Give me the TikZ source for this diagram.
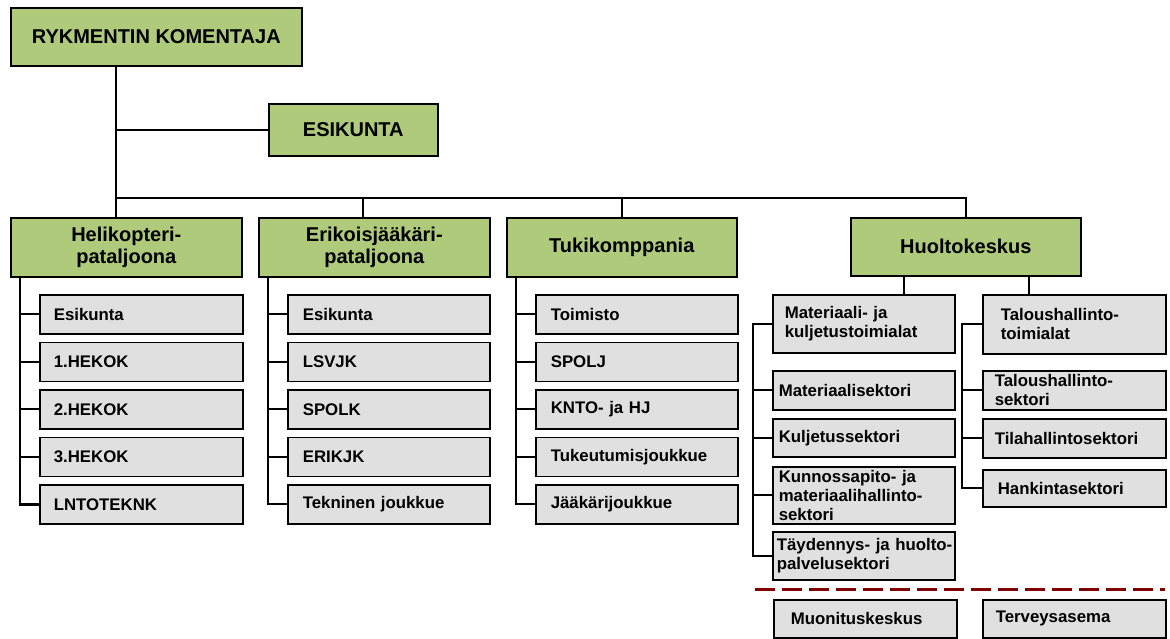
\documentclass[tikz,border=0pt]{standalone}
\usepackage{fontspec}
\setmainfont{Liberation Sans}
\usetikzlibrary{positioning}
\definecolor{boxgreen}{RGB}{174,202,122}
\definecolor{boxgray}{RGB}{224,224,224}
\definecolor{dashred}{RGB}{128,0,0}

\begin{document}
\begin{tikzpicture}[x=1pt,y=-1pt,
    head/.style={draw,fill=boxgreen,line width=1.6pt,align=center,anchor=north west,
        inner sep=0pt,font=\fontsize{20}{22}\selectfont\bfseries},
    unit/.style={draw,fill=boxgray,line width=1.6pt,anchor=north west,
        minimum height=39pt,text width=175pt,inner xsep=14pt,inner ysep=0pt,
        align=left,font=\fontsize{16.8}{19}\selectfont\bfseries},
    hkunit/.style={unit,text width=170pt,inner xsep=6pt},
    link/.style={line width=1.8pt},
    node distance=47.5pt]
    \useasboundingbox (0,0) rectangle (1170,639);

    % johto
    \node[head,minimum width=291pt,minimum height=58pt] (rk) at (10,7) {RYKMENTIN KOMENTAJA};
    \node[head,minimum width=169pt,minimum height=52pt] (es) at (268,103) {ESIKUNTA};

    \node[head,minimum width=231pt,minimum height=59pt] (hp) at (10,217) {Helikopteri-\\pataljoona};
    \node[head,minimum width=231pt,minimum height=59pt] (ej) at (258,217) {Erikoisjääkäri-\\pataljoona};
    \node[head,minimum width=230pt,minimum height=59pt] (tk) at (506,217) {Tukikomppania};
    \node[head,minimum width=230pt,minimum height=58pt] (hk) at (850,217) {Huoltokeskus};

    % Helikopteripataljoona
    \node[unit] (hp1) at (39,294) {Esikunta};
    \node[unit] (hp2) [below of=hp1] {1.HEKOK};
    \node[unit] (hp3) [below of=hp2] {2.HEKOK};
    \node[unit] (hp4) [below of=hp3] {3.HEKOK};
    \node[unit] (hp5) [below of=hp4] {LNTOTEKNK};

    % Erikoisjaakaripataljoona
    \node[unit,text width=172pt,inner xsep=15pt] (ej1) at (287,294) {Esikunta};
    \node[unit,text width=172pt,inner xsep=15pt] (ej2) [below of=ej1] {LSVJK};
    \node[unit,text width=172pt,inner xsep=15pt] (ej3) [below of=ej2] {SPOLK};
    \node[unit,text width=172pt,inner xsep=15pt] (ej4) [below of=ej3] {ERIKJK};
    \node[unit,text width=172pt,inner xsep=15pt] (ej5) [below of=ej4] {Tekninen joukkue};

    % Tukikomppania
    \node[unit,text width=172pt,inner xsep=15pt] (tk1) at (535,294) {Toimisto};
    \node[unit,text width=172pt,inner xsep=15pt] (tk2) [below of=tk1] {SPOLJ};
    \node[unit,text width=172pt,inner xsep=15pt] (tk3) [below of=tk2] {KNTO- ja HJ};
    \node[unit,text width=172pt,inner xsep=15pt] (tk4) [below of=tk3] {Tukeutumisjoukkue};
    \node[unit,text width=172pt,inner xsep=15pt] (tk5) [below of=tk4] {Jääkärijoukkue};

    % Huoltokeskus
    \node[hkunit,minimum height=58pt,inner xsep=12pt,text width=158pt] (m1) at (772,294)
        {Materiaali- ja\\kuljetustoimialat};
    \node[hkunit] (m2) at (772,370) {Materiaalisektori};
    \node[hkunit,minimum height=38pt] (m3) at (772,418) {Kuljetussektori};
    \node[hkunit,minimum height=57pt] (m4) at (772,466)
        {Kunnossapito- ja\\materiaalihallinto-\\sektori};
    \node[hkunit,minimum height=48pt,inner xsep=4pt,text width=174pt] (m5) at (772,531)
        {\mbox{Täydennys- ja huolto-}\\palvelusektori};

    \node[hkunit,minimum height=59pt,inner xsep=18pt,text width=147pt] (t1) at (982,294)
        {Taloushallinto-\\toimialat};
    \node[hkunit,inner xsep=12pt,text width=159pt] (t2) at (982,370)
        {Taloushallinto-\\sektori};
    \node[hkunit,inner xsep=12pt,text width=159pt] (t3) at (982,418) {Tilahallintosektori};
    \node[hkunit,minimum height=37pt,inner xsep=15pt,text width=153pt] (t4) at (982,469)
        {Hankintasektori};

    \node[hkunit,minimum height=38pt,inner xsep=17pt,text width=149pt] (mu) at (773,599)
        {Muonituskeskus};
    \node[hkunit,minimum height=38pt,inner xsep=13pt,text width=157pt] (te) at (982,599)
        {Terveysasema};

    % linjat
    \coordinate (bus) at (116,198);
    \coordinate (ejdrop) at (363,198);
    \draw[link] (rk.south -| bus) -- (bus |- hp.north);
    \draw[link] (bus |- es.west) -- (es.west);
    \draw[link] (bus) -| (hk.north);
    \draw[link] (ejdrop) -- (ejdrop |- ej.north);
    \draw[link] (bus -| tk.north) -- (tk.north);

    \coordinate (hpbus) at (20,0);
    \coordinate (ejbus) at (268,0);
    \coordinate (tkbus) at (516,0);
    \draw[link,line width=2.6pt] (hpbus |- hp.south) |- (hp5.west);
    \draw[link] (ejbus |- ej.south) |- (ej5.west);
    \draw[link,line width=2.2pt] (tkbus |- tk.south) |- (tk5.west);
    \foreach \i in {1,...,4} {
        \draw[link] (hpbus |- hp\i.west) -- (hp\i.west);
        \draw[link] (ejbus |- ej\i.west) -- (ej\i.west);
        \draw[link] (tkbus |- tk\i.west) -- (tk\i.west);
    }

    \coordinate (hkl) at (904,0);
    \coordinate (hkr) at (1029,0);
    \draw[link] (hkl |- hk.south) -- (hkl |- m1.north);
    \draw[link] (hkr |- hk.south) -- (hkr |- t1.north);

    \coordinate (mbus) at (753,0);
    \coordinate (tbus) at (962,0);
    \draw[link] (m1.west) -| (mbus |- m5.west) -- (m5.west);
    \draw[link] (t1.west) -| (tbus |- t4.west) -- (t4.west);
    \foreach \i in {2,3,4} \draw[link] (mbus |- m\i.west) -- (m\i.west);
    \foreach \i in {2,3} \draw[link] (tbus |- t\i.west) -- (t\i.west);

    \coordinate (dl) at (755,589);
    \coordinate (dr) at (1165,589);
    \draw[dashred,line width=3pt,dash pattern=on 20pt off 7pt] (dl) -- (dr);
\end{tikzpicture}
\end{document}
